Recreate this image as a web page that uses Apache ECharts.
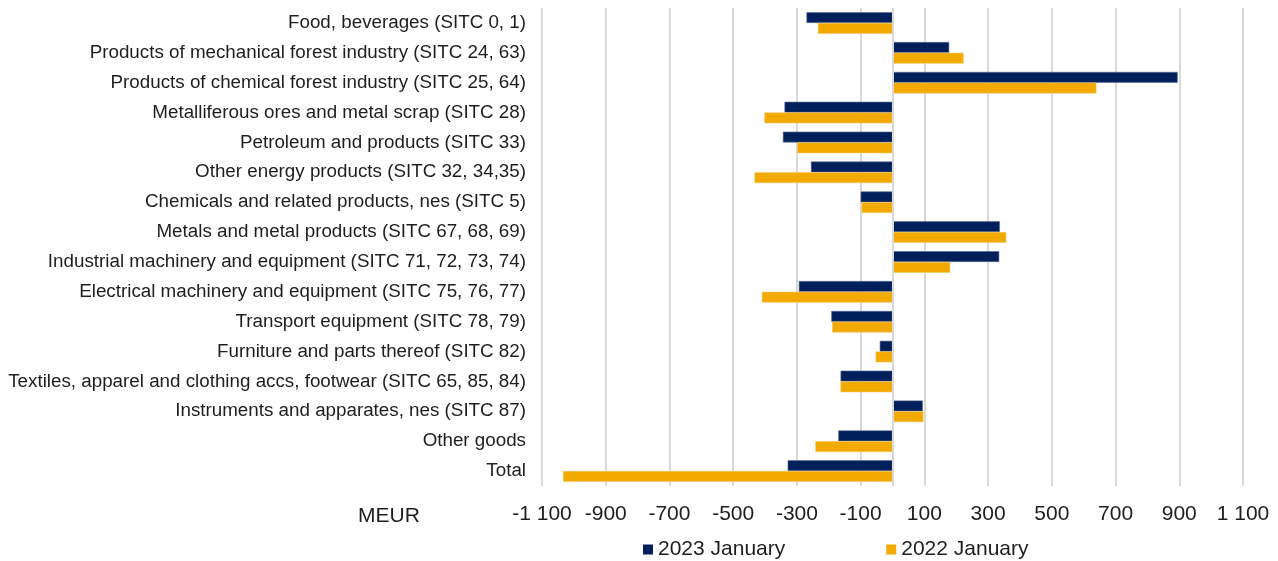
<!DOCTYPE html>
<html>
<head>
<meta charset="utf-8">
<script src="https://cdn.jsdelivr.net/npm/echarts@6/dist/echarts.min.js"></script>
<style>
html,body{margin:0;padding:0;background:#fff;}
#chart{width:1278px;height:561px;}
</style>
</head>
<body>
<div id="chart"></div>
<script>
const categories = [
  "Food, beverages (SITC 0, 1)",
  "Products of mechanical forest industry (SITC 24, 63)",
  "Products of chemical forest industry (SITC 25, 64)",
  "Metalliferous ores and metal scrap (SITC 28)",
  "Petroleum and products (SITC 33)",
  "Other energy products (SITC 32, 34,35)",
  "Chemicals and related products, nes (SITC 5)",
  "Metals and metal products (SITC 67, 68, 69)",
  "Industrial machinery and equipment (SITC 71, 72, 73, 74)",
  "Electrical machinery and equipment (SITC 75, 76, 77)",
  "Transport equipment (SITC 78, 79)",
  "Furniture and parts thereof (SITC 82)",
  "Textiles, apparel and clothing accs, footwear (SITC 65, 85, 84)",
  "Instruments and apparates, nes (SITC 87)",
  "Other goods",
  "Total"
];
const seriesNames = ["2023 January", "2022 January"];
const jan2023 = [-270, 178, 895, -339, -344, -256, -100, 337, 335, -294, -192, -40, -163, 95, -170, -329];
const jan2022 = [-234, 223, 640, -402, -299, -433, -97, 357, 181, -410, -189, -53, -163, 97, -242, -1034];
const axisMin = -1100, axisMax = 1100, axisInterval = 200;
const unitLabel = "MEUR";

const font = "Liberation Sans, Arial, sans-serif";
const textColor = "#1e1e1e";
const gridColor = "#d9d9d9";

const chart = echarts.init(document.getElementById('chart'), null, {renderer: 'canvas'});
chart.setOption({
  animation: false,
  backgroundColor: '#ffffff',
  grid: {left: 542, right: 35, top: 8, height: 478, containLabel: false},
  xAxis: {
    type: 'value',
    min: axisMin, max: axisMax, interval: axisInterval,
    axisLine: {show: false},
    axisTick: {show: false},
    splitLine: {show: true, lineStyle: {color: gridColor, width: 2}},
    axisLabel: {
      margin: 18,
      color: textColor, fontFamily: font, fontSize: 21,
      formatter: function (v) {
        const s = Math.abs(v).toString().replace(/\B(?=(\d{3})+(?!\d))/g, ' ');
        return (v < 0 ? '-' : '') + s;
      }
    }
  },
  yAxis: {
    type: 'category',
    data: categories,
    inverse: true,
    axisLine: {show: false, onZero: false},
    axisTick: {show: false},
    splitLine: {show: false},
    axisLabel: {margin: 16, color: textColor, fontFamily: font, fontSize: 18.8, interval: 0}
  },
  legend: {
    left: 638, top: 534,
    itemWidth: 10, itemHeight: 10, itemGap: 101,
    icon: 'rect',
    itemStyle: {borderWidth: 0},
    textStyle: {color: textColor, fontFamily: font, fontSize: 21},
    data: seriesNames
  },
  graphic: [{
    type: 'text', left: 358, top: 506,
    style: {text: unitLabel, fill: textColor, font: '21px ' + font}
  }],
  series: [
    {
      name: seriesNames[0], type: 'bar', data: jan2023,
      barGap: '0%', barCategoryGap: '28%',
      itemStyle: {color: '#00205B', borderColor: '#5a6c90', borderWidth: 0.6},
      markLine: {
        silent: true, symbol: ['none', 'none'], label: {show: false},
        lineStyle: {color: gridColor, width: 2, type: 'solid'},
        data: [{xAxis: 0}], z: 10
      }
    },
    {
      name: seriesNames[1], type: 'bar', data: jan2022,
      barGap: '0%', barCategoryGap: '28%',
      itemStyle: {color: '#F2A900', borderColor: '#f5c65a', borderWidth: 0.6}
    }
  ]
});
</script>
</body>
</html>
